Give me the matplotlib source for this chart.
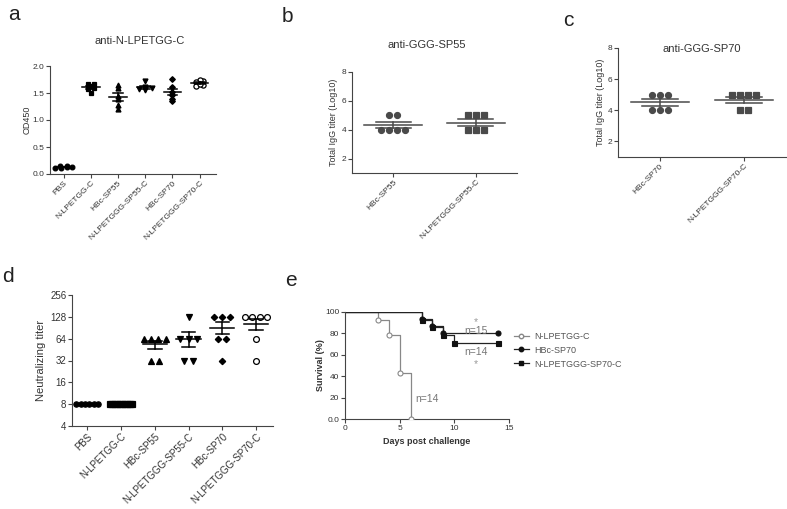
import numpy as np
import matplotlib
matplotlib.use('Agg')
from matplotlib import pyplot as plt

plt.rcParams['font.family'] = ['Liberation Sans', 'DejaVu Sans']

# panel a: OD450
a_groups = ['PBS', 'N-LPETGG-C', 'HBc-SP55', 'N-LPETGGG-SP55-C', 'HBc-SP70', 'N-LPETGGG-SP70-C']
a_pbs = [0.13, 0.14, 0.15, 0.12, 0.11, 0.13]
a_lpetgg = [1.67, 1.63, 1.66, 1.60, 1.58, 1.50]
a_sp55 = [1.60, 1.65, 1.44, 1.38, 1.20, 1.27]
a_sp55c = [1.72, 1.61, 1.58, 1.55, 1.60, 1.58]
a_sp70 = [1.76, 1.61, 1.47, 1.35, 1.39, 1.52]
a_sp70c = [1.72, 1.74, 1.70, 1.64, 1.63, 1.66]

# panel b/c: total IgG titer (log10)
b_groups = ['HBc-SP55', 'N-LPETGGG-SP55-C']
b_sp55 = [5, 5, 4, 4, 4, 4]
b_sp55c = [5, 5, 5, 4, 4, 4]
c_groups = ['HBc-SP70', 'N-LPETGGG-SP70-C']
c_sp70 = [5, 5, 5, 4, 4, 4]
c_sp70c = [5, 5, 5, 5, 4, 4]

# panel d: neutralizing titer
d_groups = a_groups
d_pbs = [8, 8, 8, 8, 8, 8]
d_lpetgg = [8, 8, 8, 8, 8, 8, 8, 8, 8, 8]
d_sp55 = [64, 64, 64, 64, 32, 32]
d_sp55c = [128, 64, 64, 64, 32, 32]
d_sp70 = [128, 128, 128, 64, 64, 32]
d_sp70c = [128, 128, 128, 128, 64, 32]

# panel e: survival
e_names = ['N-LPETGG-C', 'HBc-SP70', 'N-LPETGGG-SP70-C']
e_days = [[0, 3, 4, 5, 6], [0, 7, 8, 9, 14], [0, 7, 8, 9, 10, 14]]
e_surv = [[100, 92.9, 78.6, 42.9, 0.0], [100, 93.3, 86.7, 80.0, 80.0], [100, 92.9, 85.7, 78.6, 71.4, 71.4]]

W, H = 787, 509
fig = plt.figure(figsize=(W / 100, H / 100), dpi=100)

msize = {'o': 1.0, 's': 0.95, '^': 1.05, 'v': 1.05, 'D': 0.85, 'O': 1.1}


def box(l, t, r, b):
    return [l / W, 1 - b / H, (r - l) / W, (b - t) / H]


def swarm(vals, tol, step, maxw):
    # spread points that share (nearly) the same value side by side
    vals = np.asarray(vals, dtype=float)
    order = np.argsort(vals)
    off = np.zeros(len(vals))
    clusters = []
    for i in order:
        if clusters and abs(vals[i] - vals[clusters[-1][0]]) <= tol:
            clusters[-1].append(i)
        else:
            clusters.append([i])
    for c in clusters:
        n = len(c)
        st = min(step, maxw / max(n - 1, 1))
        for k, i in enumerate(c):
            off[i] = (k - (n - 1) / 2) * st
    return off


def style(ax, col='#444444'):
    for s in ['top', 'right']:
        ax.spines[s].set_visible(False)
    for s in ['left', 'bottom']:
        ax.spines[s].set_color(col)
        ax.spines[s].set_linewidth(0.8)
    ax.tick_params(colors=col, labelcolor='#333333', labelsize=6, length=3, width=0.8, pad=1)


def dots(ax, data, markers, color, tol, step, maxw, ms, mean_w=0.35, cap_w=0.2, log=False):
    for i, (vals, m) in enumerate(zip(data, markers)):
        x = i + swarm(np.log2(vals) if log else vals, tol, step, maxw)
        face = 'white' if m == 'O' else color
        mk = 'o' if m == 'O' else m
        ax.plot(x, vals, ls='none', marker=mk, ms=ms * msize[m], mfc=face, mec=color, mew=0.9, zorder=3)
        v = np.asarray(vals, dtype=float)
        mean = v.mean()
        sem = v.std(ddof=1) / np.sqrt(len(v))
        ax.plot([i - mean_w, i + mean_w], [mean, mean], color=color, lw=1.1, zorder=4)
        if sem > 0:
            ax.plot([i, i], [mean - sem, mean + sem], color=color, lw=1.1, zorder=4)
            ax.plot([i - cap_w, i + cap_w], [mean - sem] * 2, color=color, lw=1.1, zorder=4)
            ax.plot([i - cap_w, i + cap_w], [mean + sem] * 2, color=color, lw=1.1, zorder=4)


# ---- a
ax = fig.add_axes(box(50, 66, 216, 174))
style(ax)
dots(ax, [a_pbs, a_lpetgg, a_sp55, a_sp55c, a_sp70, a_sp70c], ['o', 's', '^', 'v', 'D', 'O'],
     'black', 0.03, 0.24, 0.65, 3.4, mean_w=0.32, cap_w=0.18)
ax.set_xlim(-0.5, 5.6)
ax.set_ylim(0, 2.0)
ax.set_yticks([0, 0.5, 1.0, 1.5, 2.0])
ax.set_yticklabels(['0.0', '0.5', '1.0', '1.5', '2.0'])
ax.set_xticks(range(len(a_groups)))
ax.set_xticklabels(a_groups, rotation=45, ha='right', rotation_mode='anchor')
ax.set_ylabel('OD450', fontsize=6.5, color='#333333', labelpad=1)
fig.text(140 / W, 1 - 41 / H, 'anti-N-LPETGG-C', ha='center', va='center', fontsize=8, color='#333333')

# ---- b
ax = fig.add_axes(box(352, 72, 517, 173))
style(ax)
dots(ax, [b_sp55, b_sp55c], ['o', 's'], '#4a4a4a', 0.1, 0.095, 0.5, 4.3, mean_w=0.35, cap_w=0.21)
ax.set_xlim(-0.5, 1.5)
ax.set_ylim(1, 8)
ax.set_yticks([2, 4, 6, 8])
ax.set_xticks(range(len(b_groups)))
ax.set_xticklabels(b_groups, rotation=45, ha='right', rotation_mode='anchor')
ax.set_ylabel('Total IgG titer (Log10)', fontsize=6.5, color='#333333', labelpad=3)
fig.text(427 / W, 1 - 45 / H, 'anti-GGG-SP55', ha='center', va='center', fontsize=8, color='#333333')

# ---- c
ax = fig.add_axes(box(618, 48, 786, 157))
style(ax)
dots(ax, [c_sp70, c_sp70c], ['o', 's'], '#4a4a4a', 0.1, 0.095, 0.5, 4.3, mean_w=0.35, cap_w=0.21)
ax.set_xlim(-0.5, 1.5)
ax.set_ylim(1, 8)
ax.set_yticks([2, 4, 6, 8])
ax.set_xticks(range(len(c_groups)))
ax.set_xticklabels(c_groups, rotation=45, ha='right', rotation_mode='anchor')
ax.set_ylabel('Total IgG titer (Log10)', fontsize=6.5, color='#333333', labelpad=2)
fig.text(702 / W, 1 - 49 / H, 'anti-GGG-SP70', ha='center', va='center', fontsize=8, color='#333333')

# ---- d
ax = fig.add_axes(box(72, 295, 273, 426))
style(ax)
ax.set_yscale('log', base=2)
dots(ax, [d_pbs, d_lpetgg, d_sp55, d_sp55c, d_sp70, d_sp70c], ['o', 's', '^', 'v', 'D', 'O'],
     'black', 0.1, 0.24, 0.65, 3.8, mean_w=0.36, cap_w=0.2, log=True)
ax.set_xlim(-0.45, 5.5)
ax.set_ylim(4, 256)
ticks = [4, 8, 16, 32, 64, 128, 256]
ax.set_yticks(ticks)
ax.set_yticklabels([str(t) for t in ticks])
ax.minorticks_off()
ax.set_xticks(range(len(d_groups)))
ax.set_xticklabels(d_groups, rotation=45, ha='right', rotation_mode='anchor')
ax.tick_params(labelsize=7)
ax.set_ylabel('Neutralizing titer', fontsize=8, color='#333333', labelpad=3)

# ---- e
ax = fig.add_axes(box(345, 312, 509, 419))
style(ax)
e_styles = [dict(color='#888888', marker='o', mfc='white', mec='#888888'),
            dict(color='#222222', marker='o', mfc='#111111', mec='#111111'),
            dict(color='#222222', marker='s', mfc='#111111', mec='#111111')]
for name, dd, ss, st in zip(e_names, e_days, e_surv, e_styles):
    ax.step(dd, ss, where='post', color=st['color'], lw=0.9, zorder=2)
    ax.plot(dd[1:], ss[1:], ls='none', marker=st['marker'], ms=3.6, mfc=st['mfc'], mec=st['mec'], mew=0.8, zorder=3)
    ax.plot([], [], color=st['color'], lw=0.9, marker=st['marker'], ms=3.2, mfc=st['mfc'], mec=st['mec'], label=name)
ax.set_xlim(0, 15)
ax.set_ylim(0, 100)
ax.set_xticks([0, 5, 10, 15])
ax.set_yticks([0, 20, 40, 60, 80, 100])
ax.set_yticklabels(['0.0', '20', '40', '60', '80', '100'])
ax.set_xlabel('Days post challenge', fontsize=6.5, color='#333333', fontweight='bold', labelpad=4)
ax.set_ylabel('Survival (%)', fontsize=6.5, color='#333333', fontweight='bold', labelpad=0)
tc = '#777777'
ax.text(12, 91, '*', ha='center', va='center', fontsize=7.5, color='#999999')
ax.text(12, 82, 'n=15', ha='center', va='center', fontsize=7.5, color=tc)
ax.text(12, 63, 'n=14', ha='center', va='center', fontsize=7.5, color=tc)
ax.text(12, 51, '*', ha='center', va='center', fontsize=7.5, color='#999999')
ax.text(7.5, 19, 'n=14', ha='center', va='center', fontsize=7.5, color=tc)
leg = ax.legend(loc='upper left', bbox_to_anchor=(1.01, 0.85), frameon=False, fontsize=6.5,
                handlelength=1.6, labelspacing=0.55, borderaxespad=0, handletextpad=0.6)
for t in leg.get_texts():
    t.set_color('#555555')

# panel letters
for lab, x, y in [('a', 14, 15), ('b', 287, 17), ('c', 568, 21), ('d', 8, 277), ('e', 291, 280)]:
    fig.text(x / W, 1 - y / H, lab, ha='center', va='center', fontsize=15, color='#222222')

fig.savefig('out.png', dpi=100)
